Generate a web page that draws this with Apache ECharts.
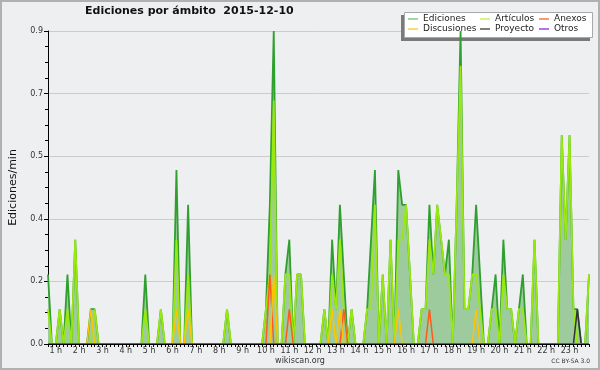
<!DOCTYPE html>
<html>
<head>
<meta charset="utf-8">
<script src="https://cdn.jsdelivr.net/npm/echarts@6/dist/echarts.min.js"></script>
<style>html,body{margin:0;padding:0;background:#eeeff0;}#c{width:600px;height:370px;}</style>
</head>
<body>
<div id="c"></div>
<script>
// 10-minute bins, 00:40 .. 23:50
const times = [
  "00:40","00:50",
  "01:00","01:10","01:20","01:30","01:40","01:50",
  "02:00","02:10","02:20","02:30","02:40","02:50",
  "03:00","03:10","03:20","03:30","03:40","03:50",
  "04:00","04:10","04:20","04:30","04:40","04:50",
  "05:00","05:10","05:20","05:30","05:40","05:50",
  "06:00","06:10","06:20","06:30","06:40","06:50",
  "07:00","07:10","07:20","07:30","07:40","07:50",
  "08:00","08:10","08:20","08:30","08:40","08:50",
  "09:00","09:10","09:20","09:30","09:40","09:50",
  "10:00","10:10","10:20","10:30","10:40","10:50",
  "11:00","11:10","11:20","11:30","11:40","11:50",
  "12:00","12:10","12:20","12:30","12:40","12:50",
  "13:00","13:10","13:20","13:30","13:40","13:50",
  "14:00","14:10","14:20","14:30","14:40","14:50",
  "15:00","15:10","15:20","15:30","15:40","15:50",
  "16:00","16:10","16:20","16:30","16:40","16:50",
  "17:00","17:10","17:20","17:30","17:40","17:50",
  "18:00","18:10","18:20","18:30","18:40","18:50",
  "19:00","19:10","19:20","19:30","19:40","19:50",
  "20:00","20:10","20:20","20:30","20:40","20:50",
  "21:00","21:10","21:20","21:30","21:40","21:50",
  "22:00","22:10","22:20","22:30","22:40","22:50",
  "23:00","23:10","23:20","23:30","23:40","23:50"
];
const hourTicks = ["01:00","02:00","03:00","04:00","05:00","06:00","07:00","08:00","09:00","10:00","11:00","12:00",
  "13:00","14:00","15:00","16:00","17:00","18:00","19:00","20:00","21:00","22:00","23:00"];
const hourLabels = ["1 h","2 h","3 h","4 h","5 h","6 h","7 h","8 h","9 h","10 h","11 h","12 h",
  "13 h","14 h","15 h","16 h","17 h","18 h","19 h","20 h","21 h","22 h","23 h"];

const ediciones = [
  0.2,0,
  0,0.1,0,0.2,0,0.3,
  0,0,0,0.1,0.1,0,
  0,0,0,0,0,0,
  0,0,0,0,0,0.2,
  0,0,0,0.1,0,0,
  0,0.5,0,0,0.4,0,
  0,0,0,0,0,0,
  0,0,0.1,0,0,0,
  0,0,0,0,0,0,
  0.1,0.4,0.9,0,0,0.2,
  0.3,0,0.2,0.2,0,0,
  0,0,0,0.1,0,0.3,
  0.1,0.4,0.2,0,0.1,0,
  0,0,0.1,0.3,0.5,0,
  0.2,0,0.3,0,0.5,0.4,
  0.4,0.2,0,0,0.1,0.1,
  0.4,0.2,0.4,0.3,0.2,0.3,
  0,0.4,0.9,0.1,0.1,0.2,
  0.4,0.2,0,0,0.1,0.2,
  0,0.3,0.1,0.1,0,0.1,
  0.2,0,0,0.3,0,0,
  0,0,0,0,0.6,0.3,
  0.6,0.1,0.1,0,0,0.2
];
const articulos = [
  0.1,0,
  0,0.1,0,0.1,0,0.3,
  0,0,0,0,0.1,0,
  0,0,0,0,0,0,
  0,0,0,0,0,0.1,
  0,0,0,0.1,0,0,
  0,0.3,0,0,0.2,0,
  0,0,0,0,0,0,
  0,0,0.1,0,0,0,
  0,0,0,0,0,0,
  0.1,0.2,0.7,0,0,0.2,
  0.2,0,0.2,0.2,0,0,
  0,0,0,0.1,0,0.2,
  0.1,0.3,0.1,0,0.1,0,
  0,0,0.1,0.1,0.4,0,
  0.2,0,0.3,0,0.3,0.3,
  0.4,0.2,0,0,0.1,0.1,
  0.3,0.2,0.4,0.3,0.2,0.2,
  0,0.4,0.8,0.1,0.1,0.2,
  0.2,0.1,0,0,0.1,0.1,
  0,0.2,0.1,0.1,0,0.1,
  0.1,0,0,0.3,0,0,
  0,0,0,0,0.6,0.3,
  0.6,0.1,0,0,0,0.2
];
const anexos = [
  0,0,
  0,0,0,0,0,0,
  0,0,0,0,0,0,
  0,0,0,0,0,0,
  0,0,0,0,0,0,
  0,0,0,0,0,0,
  0,0,0,0,0,0,
  0,0,0,0,0,0,
  0,0,0,0,0,0,
  0,0,0,0,0,0,
  0,0.2,0,0,0,0,
  0.1,0,0,0,0,0,
  0,0,0,0,0,0,
  0,0,0.1,0,0,0,
  0,0,0,0,0,0,
  0,0,0,0,0,0,
  0,0,0,0,0,0,
  0.1,0,0,0,0,0,
  0,0,0,0,0,0,
  0,0,0,0,0,0,
  0,0,0,0,0,0,
  0,0,0,0,0,0,
  0,0,0,0,0,0,
  0,0,0,0,0,0
];
const discusiones = [
  0,0,
  0,0,0,0,0,0,
  0,0,0,0.1,0,0,
  0,0,0,0,0,0,
  0,0,0,0,0,0,
  0,0,0,0,0,0,
  0,0.1,0,0,0.1,0,
  0,0,0,0,0,0,
  0,0,0,0,0,0,
  0,0,0,0,0,0,
  0,0,0.2,0,0,0,
  0,0,0,0,0,0,
  0,0,0,0,0,0.1,
  0,0.1,0,0,0,0,
  0,0,0,0,0,0,
  0,0,0,0,0.1,0,
  0,0,0,0,0,0,
  0,0,0,0,0,0,
  0,0,0,0,0,0,
  0.1,0,0,0,0,0,
  0,0,0,0,0,0,
  0,0,0,0,0,0,
  0,0,0,0,0,0,
  0,0,0,0,0,0
];
const proyecto = [
  0,0,
  0,0,0,0,0,0,
  0,0,0,0,0,0,
  0,0,0,0,0,0,
  0,0,0,0,0,0,
  0,0,0,0,0,0,
  0,0,0,0,0,0,
  0,0,0,0,0,0,
  0,0,0,0,0,0,
  0,0,0,0,0,0,
  0,0,0,0,0,0,
  0,0,0,0,0,0,
  0,0,0,0,0,0,
  0,0,0,0,0,0,
  0,0,0,0,0,0,
  0,0,0,0,0,0,
  0,0,0,0,0,0,
  0,0,0,0,0,0,
  0,0,0,0,0,0,
  0,0,0,0,0,0,
  0,0,0,0,0,0,
  0,0,0,0,0,0,
  0,0,0,0,0,0,
  0,0,0.1,0,0,0
];
const otros = new Array(times.length).fill(0);

const legendNames = ['Ediciones', 'Artículos', 'Anexos', 'Discusiones', 'Proyecto', 'Otros'];
const legendColors = ['#80cc80', '#c8f060', '#ff7744', '#ffcc44', '#555555', '#9944ee'];

const FONT = 'DejaVu Sans';
const chart = echarts.init(document.getElementById('c'), null, {renderer: 'canvas'});

function lineSeries(name, data, color, width, extra) {
  return Object.assign({
    name: name, type: 'line', data: data, showSymbol: false, symbol: 'none', z: 2,
    lineStyle: {color: color, width: width}, itemStyle: {color: color}, silent: true
  }, extra || {});
}

const colStyle = ['c1', 'c2', 'c3'];

chart.setOption({
  animation: false,
  backgroundColor: '#eeeff0',
  title: {
    text: 'Ediciones por ámbito  2015-12-10',
    left: 85, top: 6, padding: 0,
    textStyle: {fontFamily: FONT, fontSize: 11, fontWeight: 'bold', color: '#111'}
  },
  legend: {
    left: 408, top: 14.5, width: 186, padding: 0, itemGap: 1, z: 1,
    itemWidth: 10, itemHeight: 1.5, icon: 'rect', selectedMode: false,
    formatter: function (name) {
      const k = legendNames.indexOf(name);
      return '{' + colStyle[k % 3] + '|' + name + '}';
    },
    textStyle: {
      fontFamily: FONT, fontSize: 9, color: '#222', lineHeight: 9,
      rich: {
        c1: {width: 56, fontFamily: FONT, fontSize: 9, color: '#222', lineHeight: 9},
        c2: {width: 43, fontFamily: FONT, fontSize: 9, color: '#222', lineHeight: 9},
        c3: {width: 36, fontFamily: FONT, fontSize: 9, color: '#222', lineHeight: 9}
      }
    },
    data: legendNames.map(function (n, k) { return {name: n, itemStyle: {color: legendColors[k]}}; })
  },
  grid: {left: 46, right: 11, top: 31, bottom: 26, containLabel: false},
  xAxis: {
    type: 'category', data: times, boundaryGap: false, z: 10,
    axisLine: {lineStyle: {color: '#000', width: 1}},
    axisTick: {show: true, interval: 0, length: 3, lineStyle: {color: '#000'}},
    axisLabel: {
      interval: function (idx, val) { return hourTicks.indexOf(val) >= 0; },
      formatter: function (val) { const k = hourTicks.indexOf(val); return k >= 0 ? hourLabels[k] : ''; },
      fontFamily: FONT, fontSize: 8, color: '#333', margin: 3
    },
    splitLine: {show: false}
  },
  yAxis: {
    type: 'value', min: 0, max: 0.9, interval: 0.18, z: 0,
    name: 'Ediciones/min', nameLocation: 'middle', nameGap: 29, nameRotate: 90,
    nameTextStyle: {fontFamily: FONT, fontSize: 11, color: '#111'},
    axisLine: {show: true, lineStyle: {color: '#000', width: 1}},
    axisTick: {show: true, length: 4, lineStyle: {color: '#000'}},
    minorTick: {show: true, splitNumber: 4, length: 3, lineStyle: {color: '#000'}},
    axisLabel: {
      fontFamily: FONT, fontSize: 8, color: '#333', margin: 5,
      formatter: function (v) { return v.toFixed(1); }
    },
    splitLine: {show: true, lineStyle: {color: '#cccccc', width: 1}}
  },
  series: [
    lineSeries('Ediciones', ediciones, '#2f9f2f', 1.8, {areaStyle: {color: '#9ecb9e', opacity: 1}}),
    lineSeries('Artículos', articulos, '#99e810', 1.8),
    lineSeries('Anexos', anexos, '#ff5a1a', 1.5),
    lineSeries('Discusiones', discusiones, '#ffc400', 1.5),
    lineSeries('Proyecto', proyecto, '#333333', 1.5),
    lineSeries('Otros', otros, '#9933ee', 1.5)
  ],
  graphic: [
    {type: 'rect', silent: true, z: 0.5, shape: {x: 401, y: 15, width: 189, height: 26},
     style: {fill: '#7a7a7a'}},
    {type: 'rect', silent: true, z: 0.6, shape: {x: 404.5, y: 12.5, width: 188, height: 25},
     style: {fill: '#ffffff', stroke: '#a8a8a8', lineWidth: 1}},
    {type: 'rect', silent: true, z: 100, shape: {x: 1, y: 1, width: 598, height: 368},
     style: {fill: 'none', stroke: '#b0b0b0', lineWidth: 2}},
    {type: 'text', silent: true, left: 'center', top: 357,
     style: {text: 'wikiscan.org', font: '8px "DejaVu Sans"', fill: '#333'}},
    {type: 'text', silent: true, right: 10, top: 358,
     style: {text: 'CC BY-SA 3.0', font: '6px "DejaVu Sans"', fill: '#333'}}
  ]
});
</script>
</body>
</html>
